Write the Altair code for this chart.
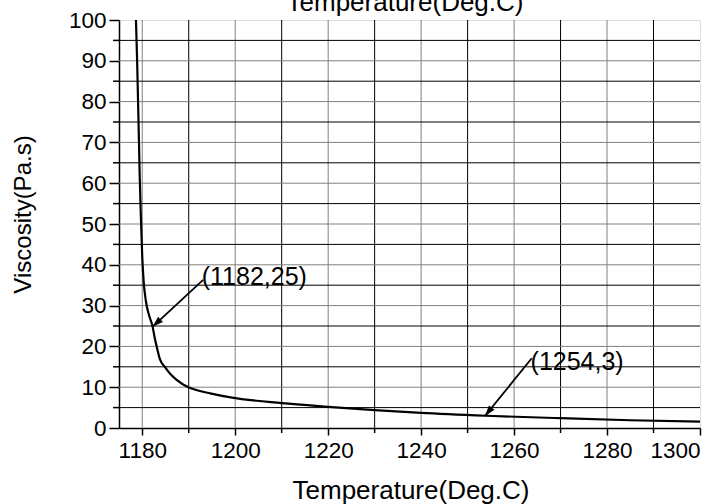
import math
import altair as alt
import pandas as pd

# ---- data ----
temp = [1178.65, 1178.9, 1179.1, 1179.3, 1179.45, 1179.7, 1180.0, 1180.3, 1180.8,
        1181.5, 1182.2, 1182.7, 1183.1, 1183.8, 1184.9, 1186.0, 1187.4, 1189.9,
        1192.0, 1194.6, 1199.0, 1210.0, 1220.0, 1230.0, 1240.0, 1254.0, 1270.0,
        1285.0, 1300.0]
visc = [100, 90, 80, 70, 62, 52, 42, 36, 31,
        27.5, 25, 22, 20, 16.9, 14.9, 13.3, 11.8, 10.0,
        9.2, 8.5, 7.5, 6.1, 5.2, 4.4, 3.7, 3.0, 2.4,
        1.9, 1.55]

ann_text = ["(1182,25)", "(1254,3)"]
ann_tip_x = [1182.2, 1253.7]
ann_tip_y = [24.8, 2.9]
ann_tail_x = [1193.1, 1263.8]
ann_tail_y = [36.3, 17.1]
ann_label_x = [1192.8, 1263.55]
ann_label_y = [37.1, 16.2]

x_major = [1180, 1200, 1220, 1240, 1260, 1280, 1300]
x_minor = [1190, 1210, 1230, 1250, 1270, 1290]
y_major = [0, 10, 20, 30, 40, 50, 60, 70, 80, 90, 100]
y_minor = [5, 15, 25, 35, 45, 55, 65, 75, 85, 95]
x_grid = [1180, 1190, 1200, 1210, 1220, 1230, 1240, 1250, 1260, 1270, 1280, 1290]
y_grid = [5, 10, 15, 20, 25, 30, 35, 40, 45, 50, 55, 60, 65, 70, 75, 80, 85, 90, 95]
top_title = ["Temperature(Deg.C)"]

XMIN, XMAX = 1175, 1300
YMIN, YMAX = 0, 100
W, H = 581, 408
FONT = "Liberation Sans"

xs = alt.Scale(domain=[XMIN, XMAX], nice=False, zero=False)
ys = alt.Scale(domain=[YMIN, YMAX], nice=False, zero=False)

curve_df = pd.DataFrame({"t": temp, "v": visc})

kx = W / (XMAX - XMIN)
ky = H / (YMAX - YMIN)
angles = []
for tx, ty, sx, sy in zip(ann_tip_x, ann_tip_y, ann_tail_x, ann_tail_y):
    dxp = (tx - sx) * kx
    dyp = -(ty - sy) * ky
    angles.append(math.degrees(math.atan2(dxp, -dyp)) % 360)

ann_df = pd.DataFrame({
    "text": ann_text, "tx": ann_tip_x, "ty": ann_tip_y,
    "sx": ann_tail_x, "sy": ann_tail_y,
    "lx": ann_label_x, "ly": ann_label_y, "ang": angles,
})

vgrid_df = pd.DataFrame({"g": x_grid,
                         "c": ["#808080" if g % 20 == 0 else "#000000" for g in x_grid]})
hgrid_df = pd.DataFrame({"g": y_grid,
                         "c": ["#808080" if g % 10 == 0 else "#000000" for g in y_grid]})

base_x_axis = alt.Axis(values=x_major, format="d", tickSize=7, tickWidth=1.5,
                       tickColor="black", domainColor="black", domainWidth=1.5,
                       labelFont=FONT, labelFontSize=22.5, labelColor="black",
                       labelPadding=4, grid=False, title="Temperature(Deg.C)",
                       titleFont=FONT, titleFontSize=26, titleFontWeight="normal",
                       titleColor="black", titleX=W / 2 + 1, titleY=70,
                       titleBaseline="alphabetic", titleAnchor="middle")
base_y_axis = alt.Axis(values=y_major, format="d", tickSize=10, tickWidth=1.5,
                       tickColor="black", domainColor="black", domainWidth=1.5,
                       labelFont=FONT, labelFontSize=22.5, labelColor="black",
                       labelPadding=3, grid=False, title="Viscosity(Pa.s)",
                       titleFont=FONT, titleFontSize=24, titleFontWeight="normal",
                       titleColor="black", titleX=-89, titleY=194, titleAngle=-90,
                       titleBaseline="alphabetic", titleAnchor="middle")

vgrid = alt.Chart(vgrid_df).mark_rule(strokeWidth=1).encode(
    x=alt.X("g:Q", scale=xs, axis=base_x_axis),
    color=alt.Color("c:N", scale=None),
)
hgrid = alt.Chart(hgrid_df).mark_rule(strokeWidth=1).encode(
    y=alt.Y("g:Q", scale=ys, axis=base_y_axis),
    color=alt.Color("c:N", scale=None),
)

# title along the top edge, partly cut off as in the reference
top = alt.Chart(pd.DataFrame({"s": top_title})).mark_text(
    font=FONT, fontSize=26, color="black", align="center", baseline="alphabetic",
).encode(x=alt.value(286), y=alt.value(-9), text="s:N")

xminor_df = pd.DataFrame({"m": x_minor})
xminor = alt.Chart(xminor_df).mark_rule(color="black", strokeWidth=1.5, clip=False).encode(
    x=alt.X("m:Q", scale=xs),
    y=alt.value(H), y2=alt.value(H + 5),
)
yminor_df = pd.DataFrame({"m": y_minor})
yminor = alt.Chart(yminor_df).mark_rule(color="black", strokeWidth=1.5, clip=False).encode(
    y=alt.Y("m:Q", scale=ys),
    x=alt.value(-6), x2=alt.value(0),
)

curve = alt.Chart(curve_df).mark_line(color="black", strokeWidth=2.2,
                                      interpolate="monotone").encode(
    x=alt.X("t:Q", scale=xs),
    y=alt.Y("v:Q", scale=ys),
)

arrow_line = alt.Chart(ann_df).mark_rule(color="black", strokeWidth=1.8).encode(
    x=alt.X("sx:Q", scale=xs), y=alt.Y("sy:Q", scale=ys),
    x2="tx:Q", y2="ty:Q",
)
arrow_head = alt.Chart(ann_df).mark_point(
    shape="M 0 0 L -0.32 1 L 0.32 1 Z", filled=True, color="black", opacity=1,
    size=484, strokeWidth=0,
).encode(
    x=alt.X("tx:Q", scale=xs), y=alt.Y("ty:Q", scale=ys),
    angle=alt.Angle("ang:Q", scale=None),
)
labels = alt.Chart(ann_df).mark_text(font=FONT, fontSize=25, color="black",
                                     align="left", baseline="middle").encode(
    x=alt.X("lx:Q", scale=xs), y=alt.Y("ly:Q", scale=ys),
    text="text:N",
)

chart = alt.layer(vgrid, hgrid, xminor, yminor, curve, arrow_line, arrow_head,
                  labels, top).properties(
    width=W, height=H,
    autosize=alt.AutoSizeParams(type="none"),
    padding={"left": 119, "top": 20, "right": 28, "bottom": 76},
).configure_view(stroke="black", strokeWidth=1.5).configure(background="white")

chart.save("out.html", embed_options={"renderer": "svg", "actions": False})
